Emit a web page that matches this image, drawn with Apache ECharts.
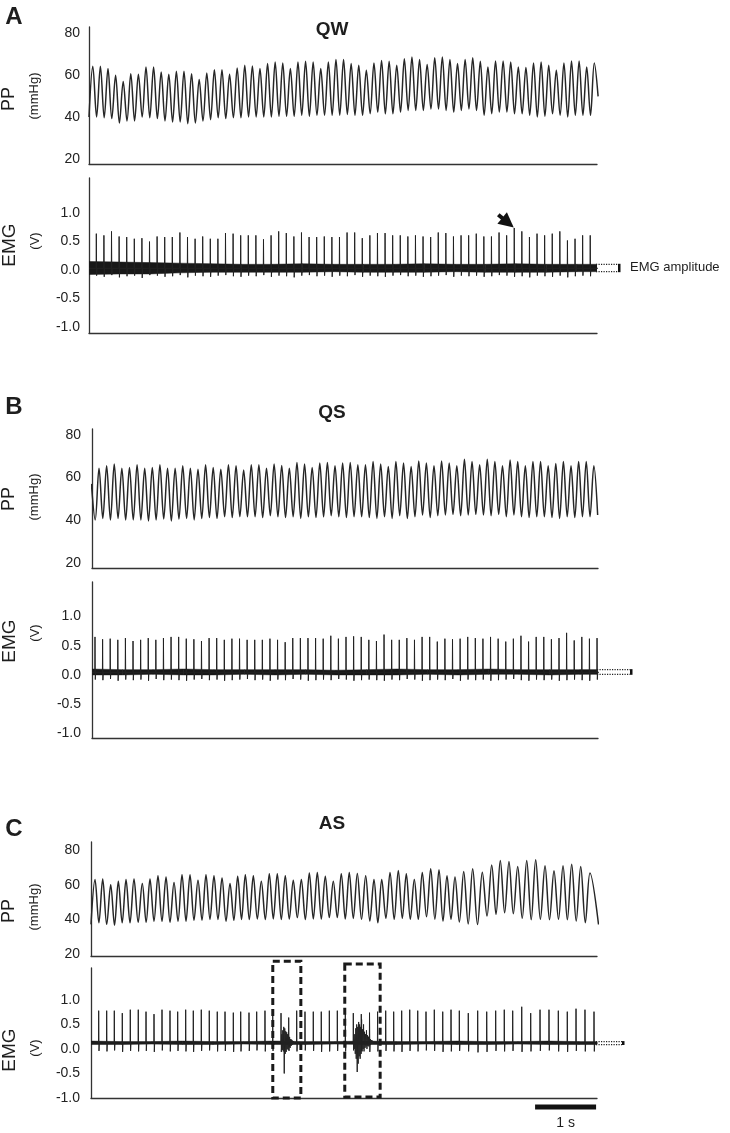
<!DOCTYPE html>
<html><head><meta charset="utf-8">
<script src="https://cdn.jsdelivr.net/npm/echarts@6/dist/echarts.min.js"></script>
<style>html,body{margin:0;padding:0;background:#fff}#c{width:730px;height:1133px}</style>
</head><body><div id="c"></div>
<script>
// ===================== DATA =====================
// Panel A (QW) – pulse pressure, mmHg: trough before each beat and beat peak
const ppPeaksA = [
 64.3,64.3,63.2,60.0,57.1,60.8,60.5,64.0,64.0,61.6,
 60.5,61.9,61.9,60.8,58.0,61.1,62.7,62.7,60.5,63.5,
 64.8,64.4,63.2,65.6,66.3,65.9,63.2,66.3,66.7,66.3,
 63.2,66.3,67.5,67.5,65.6,64.8,62.4,65.9,67.1,66.7,
 64.8,67.9,68.7,67.5,65.2,68.4,68.7,67.5,65.6,67.5,
 68.4,66.7,64.0,66.8,66.8,66.3,64.0,63.7,65.9,66.3,
 64.8,62.4,65.9,66.8,66.8,64.0,65.9];
const ppTroughsA = [
 40.2,40.2,39.8,39.4,37.3,38.3,38.3,40.2,39.8,39.4,
 38.3,37.8,37.8,37.0,37.3,38.3,38.9,39.8,39.4,39.8,
 39.8,40.2,40.2,40.2,40.2,40.5,40.5,40.5,41.0,40.5,
 41.0,41.0,41.0,41.0,41.4,41.0,41.0,41.7,42.5,41.7,
 41.7,42.5,43.3,43.3,43.3,44.0,44.0,43.3,42.5,43.3,
 44.0,43.3,41.0,41.7,42.5,42.5,41.7,41.7,41.0,40.2,
 40.5,41.7,41.0,40.2,41.0,41.0,41.0,50.0];
// Panel A – EMG (V): ECG-artifact spike peaks, following dips, noise envelope
const emgSpikesA = [
 0.64,0.61,0.68,0.59,0.58,0.55,0.56,0.50,0.59,0.58,
 0.58,0.66,0.58,0.55,0.59,0.55,0.55,0.65,0.64,0.61,
 0.61,0.61,0.54,0.61,0.68,0.65,0.59,0.66,0.58,0.58,
 0.59,0.58,0.58,0.66,0.66,0.56,0.61,0.65,0.65,0.61,
 0.61,0.59,0.61,0.59,0.58,0.66,0.65,0.59,0.61,0.61,
 0.64,0.59,0.59,0.66,0.61,0.74,0.68,0.58,0.64,0.61,
 0.64,0.68,0.52,0.55,0.61,0.61];
const emgDipsA = [
 -0.10,-0.12,-0.09,-0.13,-0.11,-0.10,-0.14,-0.09,-0.10,-0.12,
 -0.11,-0.09,-0.13,-0.10,-0.11,-0.12,-0.10,-0.09,-0.11,-0.12,
 -0.10,-0.11,-0.09,-0.12,-0.10,-0.11,-0.13,-0.10,-0.09,-0.11,
 -0.10,-0.12,-0.10,-0.11,-0.09,-0.12,-0.10,-0.11,-0.12,-0.10,
 -0.09,-0.11,-0.10,-0.12,-0.11,-0.10,-0.09,-0.12,-0.10,-0.11,
 -0.10,-0.12,-0.11,-0.09,-0.10,-0.12,-0.11,-0.13,-0.10,-0.11,
 -0.12,-0.10,-0.13,-0.11,-0.10,-0.11];
const noiseT = [0,0.5,1,1.5,2,2.5,3,3.5,4,4.5,5,5.5,6,6.5,7,7.5,8,8.5];
const noiseHiA = [0.15,0.14,0.13,0.12,0.11,0.10,0.10,0.11,0.10,0.10,0.10,0.11,0.10,0.10,0.11,0.10,0.10,0.10];
const noiseLoA = [-0.08,-0.07,-0.07,-0.05,-0.04,-0.04,-0.04,-0.04,-0.03,-0.04,-0.04,-0.04,-0.03,-0.04,-0.04,-0.04,-0.03,-0.03];

// Panel B (QS)
const ppPeaksB = [
 64.4,65.5,66.3,64.4,64.7,66.0,64.4,64.7,66.0,64.4,
 64.4,65.5,64.4,63.9,66.0,64.7,63.9,66.0,65.5,63.5,
 66.0,66.0,64.4,66.3,65.7,64.4,67.1,66.3,64.7,66.8,
 67.1,65.5,66.8,67.1,66.0,66.0,67.5,66.3,65.2,67.5,
 66.8,65.2,67.8,66.8,65.5,67.8,66.8,65.5,68.6,67.5,
 66.0,68.6,67.5,65.5,68.2,67.5,65.5,67.5,67.5,65.5,
 66.6,67.5,65.5,67.5,67.5,65.5];
const ppTroughsB = [
 40.1,40.8,40.1,40.8,40.1,40.1,40.1,39.6,40.1,40.5,
 39.6,40.5,40.8,40.1,40.8,41.2,40.8,41.6,41.2,41.6,
 41.6,41.6,41.2,42.1,41.6,41.2,41.6,40.8,41.6,41.2,
 41.6,42.1,41.6,41.2,41.6,41.6,41.2,40.8,41.6,40.8,
 42.1,40.8,41.6,42.4,41.2,42.1,42.4,42.7,42.1,42.4,
 42.7,42.4,42.1,42.7,41.6,42.4,41.6,41.2,41.6,41.6,
 41.2,40.8,41.6,41.2,41.6,41.6,42.4];
const ppStartValueB = 57;
const emgSpikesB = [
 0.65,0.61,0.62,0.60,0.63,0.58,0.60,0.63,0.60,0.63,
 0.65,0.65,0.62,0.61,0.58,0.63,0.63,0.60,0.62,0.62,
 0.60,0.60,0.60,0.62,0.60,0.56,0.63,0.63,0.63,0.63,
 0.62,0.67,0.62,0.65,0.66,0.65,0.60,0.58,0.69,0.60,
 0.60,0.63,0.60,0.65,0.65,0.57,0.62,0.61,0.62,0.65,
 0.63,0.62,0.65,0.62,0.57,0.62,0.67,0.57,0.65,0.65,
 0.61,0.63,0.72,0.59,0.65,0.62,0.63];
const emgDipsB = [
 -0.08,-0.09,-0.07,-0.10,-0.08,-0.09,-0.08,-0.10,-0.07,-0.09,
 -0.08,-0.09,-0.10,-0.08,-0.07,-0.09,-0.08,-0.10,-0.09,-0.08,
 -0.07,-0.09,-0.08,-0.10,-0.08,-0.09,-0.07,-0.08,-0.10,-0.09,
 -0.08,-0.09,-0.07,-0.08,-0.10,-0.09,-0.08,-0.09,-0.10,-0.08,
 -0.09,-0.07,-0.08,-0.10,-0.09,-0.08,-0.09,-0.07,-0.10,-0.08,
 -0.09,-0.08,-0.10,-0.09,-0.08,-0.07,-0.09,-0.10,-0.08,-0.09,
 -0.08,-0.10,-0.09,-0.08,-0.09,-0.10,-0.08];
const noiseHiB = [0.10,0.09,0.09,0.10,0.09,0.09,0.09,0.09,0.08,0.09,0.10,0.09,0.09,0.10,0.09,0.09,0.09,0.09];
const noiseLoB = [0.00,0.00,0.01,0.00,0.00,0.01,0.00,0.01,0.00,0.00,0.00,0.01,0.00,0.01,0.01,0.00,0.01,0.01];

// Panel C (AS) – irregular beat timing, so times (s) are listed
const ppPeakTimesC = [
 0.066,0.192,0.323,0.448,0.574,0.705,0.841,0.967,1.098,1.230,
 1.361,1.492,1.623,1.754,1.885,2.016,2.148,2.279,2.405,2.530,
 2.661,2.792,2.923,3.054,3.185,3.316,3.448,3.579,3.710,3.841,
 3.972,4.103,4.234,4.366,4.503,4.639,4.766,4.902,5.038,5.169,
 5.300,5.431,5.569,5.705,5.836,5.967,6.110,6.257,6.415,6.569,
 6.710,6.852,6.995,7.143,7.290,7.443,7.590,7.738,7.880,8.028,
 8.180];
const ppPeaksC = [
 62.9,63.2,60.0,61.9,62.9,63.2,60.6,63.2,65.1,64.4,
 61.3,65.7,65.7,62.5,65.7,65.1,63.8,60.6,64.8,65.7,
 65.1,61.9,66.3,66.3,65.1,62.5,62.9,66.7,67.0,64.8,
 61.9,66.3,67.0,66.5,65.1,62.9,62.9,67.0,68.2,66.3,
 62.9,67.0,69.1,68.6,65.1,64.4,67.6,69.1,67.2,71.4,
 73.9,73.3,70.5,73.9,74.3,70.9,68.0,70.9,71.8,70.5,
 66.7];
const ppTroughsC = [
 37.1,38.0,37.1,36.6,38.0,38.0,38.3,38.3,38.9,38.9,
 38.3,38.9,38.9,39.5,39.5,39.9,39.9,38.9,39.5,39.9,
 39.9,40.2,39.9,40.2,39.9,40.2,41.0,39.9,40.2,40.2,
 41.0,41.0,40.2,40.5,40.0,39.0,38.0,40.6,40.0,40.6,
 40.0,40.0,41.5,40.0,39.0,40.0,38.5,37.3,37.0,41.9,
 42.9,43.8,43.2,40.6,39.8,40.0,39.8,40.0,39.8,39.0,
 38.0,37.0];
const emgSpikeTimesC = [
 0.126,0.257,0.382,0.513,0.644,0.775,0.902,1.033,1.164,1.295,
 1.421,1.552,1.677,1.808,1.939,2.070,2.197,2.333,2.454,2.590,
 2.716,2.852,2.979,3.115,3.241,3.372,3.508,3.644,3.775,3.907,
 4.038,4.169,4.300,4.431,4.566,4.698,4.831,4.962,5.093,5.225,
 5.356,5.492,5.628,5.766,5.902,6.038,6.185,6.339,6.487,6.634,
 6.775,6.913,7.061,7.208,7.361,7.508,7.661,7.808,7.951,8.098,
 8.246];
const emgSpikesC = [
 0.78,0.78,0.78,0.73,0.80,0.80,0.76,0.71,0.80,0.78,
 0.76,0.80,0.78,0.80,0.78,0.76,0.76,0.74,0.76,0.74,
 0.76,0.78,0.78,0.73,0.64,0.78,0.76,0.76,0.76,0.78,
 0.78,0.74,0.73,0.71,0.74,0.76,0.78,0.76,0.78,0.80,
 0.78,0.76,0.80,0.76,0.80,0.78,0.73,0.78,0.76,0.78,
 0.80,0.78,0.86,0.73,0.80,0.80,0.78,0.76,0.82,0.80,
 0.76];
const emgDipsC = [
 -0.04,-0.05,-0.03,-0.06,-0.04,-0.05,-0.04,-0.06,-0.03,-0.05,
 -0.04,-0.05,-0.06,-0.04,-0.03,-0.05,-0.04,-0.06,-0.05,-0.04,
 -0.03,-0.05,-0.04,-0.06,-0.04,-0.05,-0.03,-0.04,-0.06,-0.05,
 -0.04,-0.05,-0.03,-0.04,-0.06,-0.05,-0.04,-0.05,-0.06,-0.04,
 -0.05,-0.03,-0.04,-0.06,-0.05,-0.04,-0.05,-0.07,-0.06,-0.04,
 -0.05,-0.04,-0.06,-0.05,-0.04,-0.03,-0.05,-0.06,-0.04,-0.05,
 -0.05];
const noiseHiC = [0.16,0.15,0.15,0.16,0.15,0.15,0.16,0.15,0.15,0.16,0.15,0.15,0.16,0.15,0.15,0.16,0.15,0.15];
const noiseLoC = [0.09,0.09,0.10,0.09,0.09,0.10,0.09,0.09,0.10,0.09,0.09,0.10,0.09,0.09,0.10,0.09,0.09,0.09];
// EMG bursts (arousal) inside the dashed boxes, sampled every 8 ms
const burst1C = [0.12,0.30,-0.02,0.38,-0.05,0.45,-0.50,0.42,-0.10,0.36,-0.06,0.34,0.00,0.30,-0.02,0.26,0.04,0.24,0.02,0.20,0.06,0.19,0.08,0.17,0.10,0.16,0.10,0.14,0.12];
const burst2C = [0.12,0.20,0.00,0.30,-0.10,0.42,-0.20,0.50,-0.47,0.45,-0.30,0.55,-0.15,0.50,-0.20,0.45,-0.10,0.60,-0.05,0.40,0.00,0.50,-0.05,0.35,0.02,0.30,0.05,0.38,0.00,0.28,0.06,0.25,0.05,0.22,0.08,0.20,0.10,0.18,0.10,0.17,0.11,0.15,0.12];

const PP_TICKS = [20, 40, 60, 80];
const EMG_TICKS = [-1.0, -0.5, 0.0, 0.5, 1.0];

// ===================== timing / layout constants =====================
const halfBeatA = 0.0623, ppStartA = 0;
const halfBeatB = 0.0624, ppStartB = -0.0098;
const spikeFirstA = 0.12, spikePeriodA = 0.1246;
const spikeFirstB = 0.049, spikePeriodB = 0.1247;
const baseA = 0.03, baseB = 0.045, baseC = 0.12;
const burst1StartC = 3.12, burst2StartC = 4.30, burstStep = 0.008;
const xMax = [8.33, 8.33, 8.295, 8.295, 8.295, 8.295];
const boxesC = [{t0: 2.98, t1: 3.44, top: 1.79, bottom: -1.0}, {t0: 4.16, t1: 4.74, top: 1.73, bottom: -0.98}];
const scaleBar = [7.28, 8.28];
const arrowBeatA = 55;

// ===================== build series data =====================
function uniform(start, step, vals) { return vals.map((v, j) => [start + j * step, v]); }
const ppAVals = [];
ppTroughsA.forEach((tr, k) => { ppAVals.push(tr); if (k < ppPeaksA.length) ppAVals.push(ppPeaksA[k]); });
const ppBVals = [ppStartValueB];
ppTroughsB.forEach((tr, k) => { ppBVals.push(tr); if (k < ppPeaksB.length) ppBVals.push(ppPeaksB[k]); });
const ppAData = uniform(ppStartA, halfBeatA, ppAVals);
const ppBData = uniform(ppStartB, halfBeatB, ppBVals);
const ppCData = [[0, ppTroughsC[0]]];
ppPeakTimesC.forEach((t, k) => {
  ppCData.push([t, ppPeaksC[k]]);
  const tn = k < ppPeakTimesC.length - 1 ? (t + ppPeakTimesC[k + 1]) / 2 : 8.32;
  ppCData.push([tn, ppTroughsC[k + 1]]);
});
const spikeTimesA = emgSpikesA.map((_, k) => spikeFirstA + k * spikePeriodA);
const spikeTimesB = emgSpikesB.map((_, k) => spikeFirstB + k * spikePeriodB);
function spikeData(times, heights, dips, base) {
  const d = [[0, base]];
  times.forEach((t, k) => { d.push([t - 0.003, base], [t, heights[k]], [t + 0.005, dips[k]], [t + 0.011, base]); });
  d.push([9, base]);
  return d;
}

const FONT = '"Liberation Sans", Arial, Helvetica, sans-serif';
const grids = [
  {left: 89, top: 27, width: 508, height: 137},
  {left: 89, top: 178, width: 508, height: 155},
  {left: 92, top: 429, width: 506, height: 139},
  {left: 92, top: 582, width: 506, height: 156},
  {left: 91, top: 842, width: 506, height: 114},
  {left: 91, top: 968, width: 506, height: 130}
];
const yRange = [[17.8, 83], [-1.11, 1.62], [17.5, 82.8], [-1.08, 1.59], [18.85, 84.6], [-1.0, 1.65]];
const labelMargin = [9, 9, 11, 11, 11, 11];
const axisLineStyle = {color: '#333', width: 1.3};

const xAxes = grids.map((g, i) => ({
  gridIndex: i, type: 'value', min: 0, max: xMax[i],
  axisLine: {show: true, onZero: false, lineStyle: axisLineStyle},
  axisTick: {show: false}, axisLabel: {show: false}, splitLine: {show: false}
}));
const yAxes = grids.map((g, i) => {
  const isPP = i % 2 === 0;
  return {
    gridIndex: i, type: 'value', min: yRange[i][0], max: yRange[i][1],
    axisLine: {show: true, onZero: false, lineStyle: axisLineStyle},
    axisTick: {show: false}, splitLine: {show: false},
    axisLabel: {
      customValues: isPP ? PP_TICKS : EMG_TICKS,
      formatter: v => isPP ? String(Math.round(v)) : Number(v).toFixed(1),
      color: '#222', fontSize: 14, fontFamily: FONT, margin: labelMargin[i]
    }
  };
});

function ppSeries(idx, data) {
  return {type: 'line', xAxisIndex: idx, yAxisIndex: idx, data, symbol: 'none', smooth: 0.35,
    clip: true, lineStyle: {color: '#262626', width: 1.5}, animation: false, silent: true};
}
// noise band: one trapezoid per envelope interval, positioned through the axes
function noiseBand(idx, hi, lo) {
  const data = noiseT.slice(0, -1).map((t, i) => [t, noiseT[i + 1], lo[i], hi[i], lo[i + 1], hi[i + 1]]);
  return {
    type: 'custom', xAxisIndex: idx, yAxisIndex: idx, data, clip: true, silent: true, animation: false,
    encode: {x: [0, 1], y: [2, 3, 4, 5]},
    renderItem: (params, api) => {
      const t0 = api.value(0), t1 = api.value(1);
      const pts = [api.coord([t0, api.value(2)]), api.coord([t0, api.value(3)]),
                   api.coord([t1, api.value(5)]), api.coord([t1, api.value(4)])];
      return {type: 'polygon', shape: {points: pts}, style: {fill: '#181818', stroke: '#181818', lineWidth: 0.5}};
    }
  };
}
function emgLine(idx, data, width) {
  return {type: 'line', xAxisIndex: idx, yAxisIndex: idx, data, symbol: 'none', clip: true,
    lineStyle: {color: '#222', width: width || 1}, animation: false, silent: true};
}

const series = [
  ppSeries(0, ppAData),
  noiseBand(1, noiseHiA, noiseLoA),
  emgLine(1, spikeData(spikeTimesA, emgSpikesA, emgDipsA, baseA)),
  ppSeries(2, ppBData),
  noiseBand(3, noiseHiB, noiseLoB),
  emgLine(3, spikeData(spikeTimesB, emgSpikesB, emgDipsB, baseB)),
  ppSeries(4, ppCData),
  noiseBand(5, noiseHiC, noiseLoC),
  emgLine(5, spikeData(emgSpikeTimesC, emgSpikesC, emgDipsC, baseC)),
  emgLine(5, uniform(burst1StartC, burstStep, burst1C), 1),
  emgLine(5, uniform(burst2StartC, burstStep, burst2C), 1)
];

const chart = echarts.init(document.getElementById('c'), null, {renderer: 'canvas'});
chart.setOption({
  animation: false,
  backgroundColor: '#fff',
  grid: grids,
  xAxis: xAxes,
  yAxis: yAxes,
  series
});

// ===================== annotations =====================
const px = (g, t, v) => chart.convertToPixel({gridIndex: g}, [t, v]);
function txt(x, y, text, size, weight, rot, align) {
  return {type: 'text', x, y, rotation: rot || 0, z: 10,
    style: {text, fontSize: size, fontWeight: weight || 'normal', fill: '#1e1e1e', fontFamily: FONT,
      align: align || 'center', verticalAlign: 'middle'}};
}
const R = Math.PI / 2;
const graphics = [
  txt(14, 17, 'A', 24, 'bold'), txt(14, 407, 'B', 24, 'bold'), txt(14, 829, 'C', 24, 'bold'),
  txt(332, 30, 'QW', 19, 'bold'), txt(332, 413, 'QS', 19, 'bold'), txt(332, 824, 'AS', 19, 'bold'),
  txt(9, 99, 'PP', 18, 'normal', R), txt(34, 96, '(mmHg)', 13, 'normal', R),
  txt(9, 499, 'PP', 18, 'normal', R), txt(34, 497, '(mmHg)', 13, 'normal', R),
  txt(9, 911, 'PP', 18, 'normal', R), txt(34, 907, '(mmHg)', 13, 'normal', R),
  txt(10, 245, 'EMG', 19, 'normal', R), txt(35, 241, '(V)', 13, 'normal', R),
  txt(10, 641, 'EMG', 19, 'normal', R), txt(35, 633, '(V)', 13, 'normal', R),
  txt(10, 1050, 'EMG', 19, 'normal', R), txt(35, 1048, '(V)', 13, 'normal', R)
];
// EMG amplitude brackets (dotted, from trace end at noise envelope)
function bracket(g, hi, lo, len, bar) {
  const a = px(g, xMax[g], hi), b = px(g, xMax[g], lo);
  const x0 = a[0] - 1, x1 = a[0] + len;
  const ds = {stroke: '#222', lineWidth: 1.2, lineDash: [1.2, 1.3]};
  graphics.push({type: 'line', shape: {x1: x0, y1: a[1], x2: x1, y2: a[1]}, style: ds, z: 10});
  graphics.push({type: 'line', shape: {x1: x0, y1: b[1], x2: x1, y2: b[1]}, style: ds, z: 10});
  if (bar) graphics.push({type: 'rect', shape: {x: x1, y: a[1] - 0.5, width: 2.5, height: b[1] - a[1] + 1}, style: {fill: '#111'}, z: 10});
  return x1;
}
const endA = bracket(1, noiseHiA[16], noiseLoA[16], 21, true);
graphics.push(txt(endA + 12, 267, 'EMG amplitude', 13, 'normal', 0, 'left'));
bracket(3, noiseHiB[16], noiseLoB[16], 32, true);
bracket(5, noiseHiC[16], noiseLoC[16], 25, true);
// arrow in A pointing to one spike
(function () {
  const tip = px(1, spikeTimesA[arrowBeatA], emgSpikesA[arrowBeatA]);
  const d = [0.773, 0.634], n = [-0.634, 0.773];
  const T = [tip[0] - 0.5, tip[1] - 0.5];
  const B = [T[0] - 15 * d[0], T[1] - 15 * d[1]];
  graphics.push({type: 'polygon', z: 10, shape: {points: [T, [B[0] + 7.5 * n[0], B[1] + 7.5 * n[1]], [B[0] - 7.5 * n[0], B[1] - 7.5 * n[1]]]}, style: {fill: '#111'}});
  graphics.push({type: 'line', z: 10, shape: {x1: B[0] - 5 * d[0], y1: B[1] - 5 * d[1], x2: B[0] + 2 * d[0], y2: B[1] + 2 * d[1]}, style: {stroke: '#111', lineWidth: 4}});
})();
// dashed boxes in C
boxesC.forEach(b => {
  const p0 = px(5, b.t0, b.top), p1 = px(5, b.t1, b.bottom);
  graphics.push({type: 'rect', z: 10, shape: {x: p0[0], y: p0[1], width: p1[0] - p0[0], height: p1[1] - p0[1]},
    style: {fill: 'none', stroke: '#1a1a1a', lineWidth: 3, lineDash: [7, 4]}});
});
// 1 s scale bar
(function () {
  const a = px(5, scaleBar[0], -1), b = px(5, scaleBar[1], -1);
  graphics.push({type: 'rect', z: 10, shape: {x: a[0], y: 1104.5, width: b[0] - a[0], height: 5}, style: {fill: '#111'}});
  graphics.push(txt((a[0] + b[0]) / 2, 1123, '1 s', 14));
})();
chart.setOption({graphic: graphics});
</script></body></html>
